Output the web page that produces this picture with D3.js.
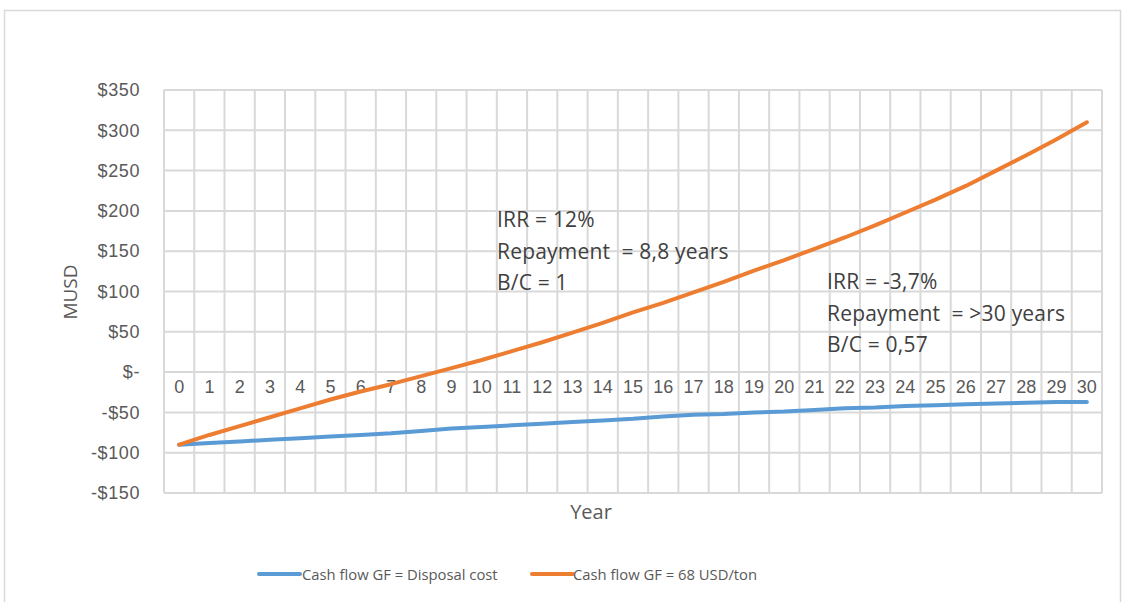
<!DOCTYPE html>
<html>
<head>
<meta charset="utf-8">
<script src="https://cdn.jsdelivr.net/npm/d3@7"></script>
<style>
  html, body { margin: 0; padding: 0; background: #fff; }
  svg { display: block; font-family: "Open Sans", "Noto Sans", sans-serif; }
</style>
</head>
<body>
<svg id="chart" width="1125" height="602"></svg>
<script>
// Project years 0..30
const years = d3.range(0, 31);

// Cumulative cash flow (MUSD), gypsum fraction valued at disposal cost
const cashFlowDisposal = [-90, -88, -86, -84, -82, -80, -78, -76, -73, -70, -68,
  -66, -64, -62, -60, -58, -55, -53, -52, -50, -49,
  -47, -45, -44, -42, -41, -40, -39, -38, -37, -37];

// Cumulative cash flow (MUSD), gypsum fraction sold at 68 USD/ton
const cashFlow68 = [-90, -78, -67, -56, -45, -34, -24, -15, -5, 5, 15,
  26, 37, 49, 61, 74, 86, 99, 112, 126, 139,
  153, 167, 182, 198, 214, 231, 250, 269, 289, 310];

const yTicks = [-150, -100, -50, 0, 50, 100, 150, 200, 250, 300, 350];

const seriesNames = ["Cash flow GF = Disposal cost", "Cash flow GF = 68 USD/ton"];
const seriesColors = ["#5b9bd5", "#ed7d31"];

const noteHigh = ["IRR = 12%", "Repayment  = 8,8 years", "B/C = 1"];
const noteLow = ["IRR = -3,7%", "Repayment  = >30 years", "B/C = 0,57"];

const svg = d3.select("#chart");
const plot = { left: 164, right: 1102, top: 90, bottom: 493 };

// chart frame
svg.append("rect")
  .attr("x", 4.5).attr("y", 10.5)
  .attr("width", 1116).attr("height", 600)
  .attr("fill", "#fff").attr("stroke", "#d9d9d9").attr("stroke-width", 1.5);

const x = d3.scaleBand().domain(years).range([plot.left, plot.right]).paddingInner(0).paddingOuter(0);
const y = d3.scaleLinear().domain([-150, 350]).range([plot.bottom, plot.top]);

const grid = svg.append("g").attr("stroke", "#d9d9d9").attr("stroke-width", 2);
// horizontal gridlines
grid.selectAll("line.h").data(yTicks).join("line")
  .attr("x1", plot.left).attr("x2", plot.right)
  .attr("y1", d => y(d)).attr("y2", d => y(d));
// vertical gridlines at category boundaries
const edges = years.map(d => x(d)).concat([x(30) + x.bandwidth()]);
grid.selectAll("line.v").data(edges).join("line")
  .attr("x1", d => d).attr("x2", d => d)
  .attr("y1", plot.top).attr("y2", plot.bottom);

// y axis labels
const fmt = v => v === 0 ? "$-" : (v < 0 ? "-$" + Math.abs(v) : "$" + v);
const yAxis = d3.axisLeft(y).tickValues(yTicks).tickFormat(fmt).tickSize(0).tickPadding(24);
const gy = svg.append("g").attr("transform", `translate(${plot.left},0)`).call(yAxis);
gy.select(".domain").remove();
gy.selectAll("text").attr("fill", "#595959").style("font-size", "18px")
  .style("letter-spacing", "0.6px").attr("font-family", null);

// x axis labels sit just below the zero line
const xAxis = d3.axisBottom(x).tickSize(0).tickPadding(21);
const gx = svg.append("g").attr("transform", `translate(0,${y(0)})`).call(xAxis);
gx.select(".domain").remove();
gx.selectAll("text").attr("fill", "#595959").style("font-size", "18px").attr("font-family", null)
  .attr("dy", "0");

// series lines
const line = d3.line().x((d, i) => x(years[i]) + x.bandwidth() / 2).y(d => y(d));
[cashFlowDisposal, cashFlow68].forEach((vals, k) => {
  svg.append("path").datum(vals)
    .attr("fill", "none").attr("stroke", seriesColors[k])
    .attr("stroke-width", 4).attr("stroke-linejoin", "round").attr("stroke-linecap", "round")
    .attr("d", line);
});

// axis titles
svg.append("text").attr("x", 591).attr("y", 519)
  .attr("text-anchor", "middle").attr("fill", "#595959").style("font-size", "20px").text("Year");
svg.append("text").attr("transform", "translate(77,292) rotate(-90)")
  .attr("text-anchor", "middle").attr("fill", "#595959").style("font-size", "19px").text("MUSD");

// annotations (keep the double space before "=")
function note(lines, x0, y0) {
  const t = svg.append("text").attr("fill", "#404040").style("font-size", "21px")
    .style("letter-spacing", "0.2px").style("white-space", "pre");
  lines.forEach((s, i) => t.append("tspan").attr("x", x0).attr("y", y0 + i * 31.5).text(s));
}
note(noteHigh, 497, 227);
note(noteLow, 827, 289);

// legend
const legend = svg.append("g");
const legendItems = [{ x: 259, tx: 302 }, { x: 532, tx: 573 }];
legendItems.forEach((p, k) => {
  legend.append("line").attr("x1", p.x).attr("x2", p.x + 41).attr("y1", 574).attr("y2", 574)
    .attr("stroke", seriesColors[k]).attr("stroke-width", 4).attr("stroke-linecap", "round");
  legend.append("text").attr("x", p.tx).attr("y", 580).attr("fill", "#595959")
    .style("font-size", "14.8px").text(seriesNames[k]);
});
</script>
</body>
</html>
